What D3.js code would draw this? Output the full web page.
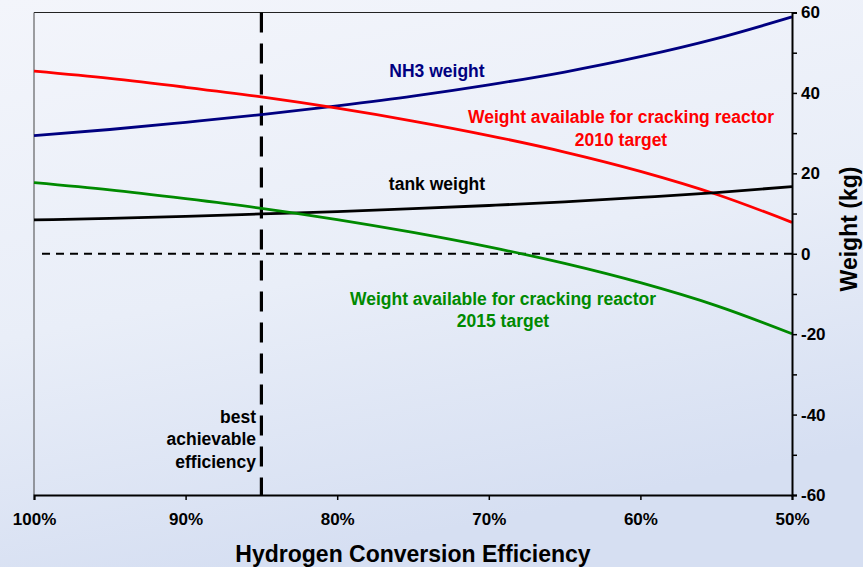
<!DOCTYPE html>
<html>
<head>
<meta charset="utf-8">
<script src="https://cdn.jsdelivr.net/npm/d3@7"></script>
<style>
	html, body { margin: 0; padding: 0; }
	svg { display: block; font-family: "Liberation Sans", Arial, sans-serif; font-weight: bold; }
</style>
</head>
<body>
<svg id="chart" width="863" height="567"></svg>
<script>
// efficacité (%) et poids (kg)
const efficiency = [100, 95, 90, 85, 80, 75, 70, 65, 60, 55, 50];
const nh3Weight = [29.4, 30.9, 32.7, 34.6, 36.8, 39.2, 42.0, 45.2, 49.0, 53.5, 58.9];
const tankWeight = [8.4, 8.8, 9.3, 9.9, 10.5, 11.2, 12.0, 12.9, 14.0, 15.2, 16.7];
const avail2010 = [45.4, 43.6, 41.4, 39.0, 36.2, 33.0, 29.4, 25.3, 20.5, 14.8, 7.8];
const avail2015 = [17.7, 15.9, 13.7, 11.3, 8.5, 5.3, 1.7, -2.4, -7.2, -12.9, -19.9];
const xTicks = [100, 90, 80, 70, 60, 50];
const yTicks = [-60, -40, -20, 0, 20, 40, 60];
const bestEfficiency = 85;

let svg = d3.select("#chart");
let width = 863, height = 567;
let margin = {top: 12.5, right: 71, bottom: 72, left: 34};

// fond bleu pâle
let defs = svg.append("defs");
let grad = defs.append("linearGradient")
	.attr("id", "fond")
	.attr("x1", 0).attr("y1", 0).attr("x2", 0.3).attr("y2", 1);
grad.append("stop").attr("offset", "0%").attr("stop-color", "#f3f5fb");
grad.append("stop").attr("offset", "55%").attr("stop-color", "#e9eef8");
grad.append("stop").attr("offset", "100%").attr("stop-color", "#d6dff2");
svg.append("rect")
	.attr("width", width)
	.attr("height", height)
	.attr("fill", "url(#fond)");

let x = d3.scaleLinear()
	.domain([100, 50])
	.range([margin.left, width - margin.right]);
let y = d3.scaleLinear()
	.domain([-60, 60])
	.range([height - margin.bottom, margin.top]);

// cadre haut et gauche
svg.append("line")
	.attr("x1", x(100)).attr("x2", x(50))
	.attr("y1", y(60)).attr("y2", y(60))
	.attr("stroke", "#222").attr("stroke-width", 1);
svg.append("line")
	.attr("x1", x(100)).attr("x2", x(100))
	.attr("y1", y(60)).attr("y2", y(-60))
	.attr("stroke", "#444").attr("stroke-width", 1);

// ligne du zéro
svg.append("line")
	.attr("x1", x(100) + 8).attr("x2", x(50))
	.attr("y1", y(0)).attr("y2", y(0))
	.attr("stroke", "#000")
	.attr("stroke-width", 2)
	.attr("stroke-dasharray", "8,6");

// meilleure efficacité atteignable
svg.append("line")
	.attr("x1", x(bestEfficiency)).attr("x2", x(bestEfficiency))
	.attr("y1", y(60)).attr("y2", y(-60))
	.attr("stroke", "#000")
	.attr("stroke-width", 3.2)
	.attr("stroke-dasharray", "20,11");

// courbes
let series = [
	{values: nh3Weight, color: "#000080"},
	{values: avail2010, color: "#ff0000"},
	{values: tankWeight, color: "#000000"},
	{values: avail2015, color: "#008a00"}
];
let line = d3.line()
	.x(d => x(d[0]))
	.y(d => y(d[1]))
	.curve(d3.curveMonotoneX);
for (let s of series) {
	svg.append("path")
		.datum(efficiency.map((e, k) => [e, s.values[k]]))
		.attr("fill", "none")
		.attr("stroke", s.color)
		.attr("stroke-width", 2.8)
		.attr("d", line);
}

// axes
let xAxis = svg.append("g")
	.attr("transform", `translate(0,${y(-60)})`)
	.call(d3.axisBottom(x).tickValues(xTicks).tickSize(5).tickPadding(13).tickFormat(d => d + "%"));
let yAxis = svg.append("g")
	.attr("transform", `translate(${x(50)},0)`)
	.call(d3.axisRight(y).tickValues(d3.range(-60, 61, 10)).tickSize(5).tickPadding(4)
		.tickFormat(d => yTicks.includes(d) ? d : ""));
for (let g of [xAxis, yAxis]) {
	g.select(".domain").attr("stroke", "#000").attr("stroke-width", 2);
	g.selectAll(".tick line").attr("stroke", "#000").attr("stroke-width", 1.5);
	g.selectAll(".tick text")
		.attr("fill", "#000")
		.style("font-size", "17px")
		.style("font-family", "'Liberation Sans', Arial, sans-serif")
		.style("font-weight", "bold");
}

// titres des axes
svg.append("text")
	.attr("x", 413)
	.attr("y", 562)
	.attr("text-anchor", "middle")
	.style("font-size", "23px")
	.text("Hydrogen Conversion Efficiency");
svg.append("text")
	.attr("transform", `translate(857,229) rotate(-90)`)
	.attr("text-anchor", "middle")
	.style("font-size", "23px")
	.text("Weight (kg)");

// étiquettes des courbes
let labels = [
	{text: "NH3 weight", x: 437, y: 77, color: "#000080", anchor: "middle"},
	{text: "Weight available for cracking reactor", x: 621, y: 123, color: "#ff0000", anchor: "middle"},
	{text: "2010 target", x: 621, y: 146, color: "#ff0000", anchor: "middle"},
	{text: "tank weight", x: 437, y: 190, color: "#000000", anchor: "middle"},
	{text: "Weight available for cracking reactor", x: 503, y: 305, color: "#008a00", anchor: "middle"},
	{text: "2015 target", x: 503, y: 327, color: "#008a00", anchor: "middle"},
	{text: "best", x: 256, y: 422.5, color: "#000000", anchor: "end"},
	{text: "achievable", x: 256, y: 445, color: "#000000", anchor: "end"},
	{text: "efficiency", x: 256, y: 467.5, color: "#000000", anchor: "end"}
];
svg.append("g")
	.selectAll("text")
	.data(labels)
	.join("text")
	.attr("x", d => d.x)
	.attr("y", d => d.y)
	.attr("fill", d => d.color)
	.attr("text-anchor", d => d.anchor)
	.style("font-size", "17.5px")
	.text(d => d.text);
</script>
</body>
</html>
